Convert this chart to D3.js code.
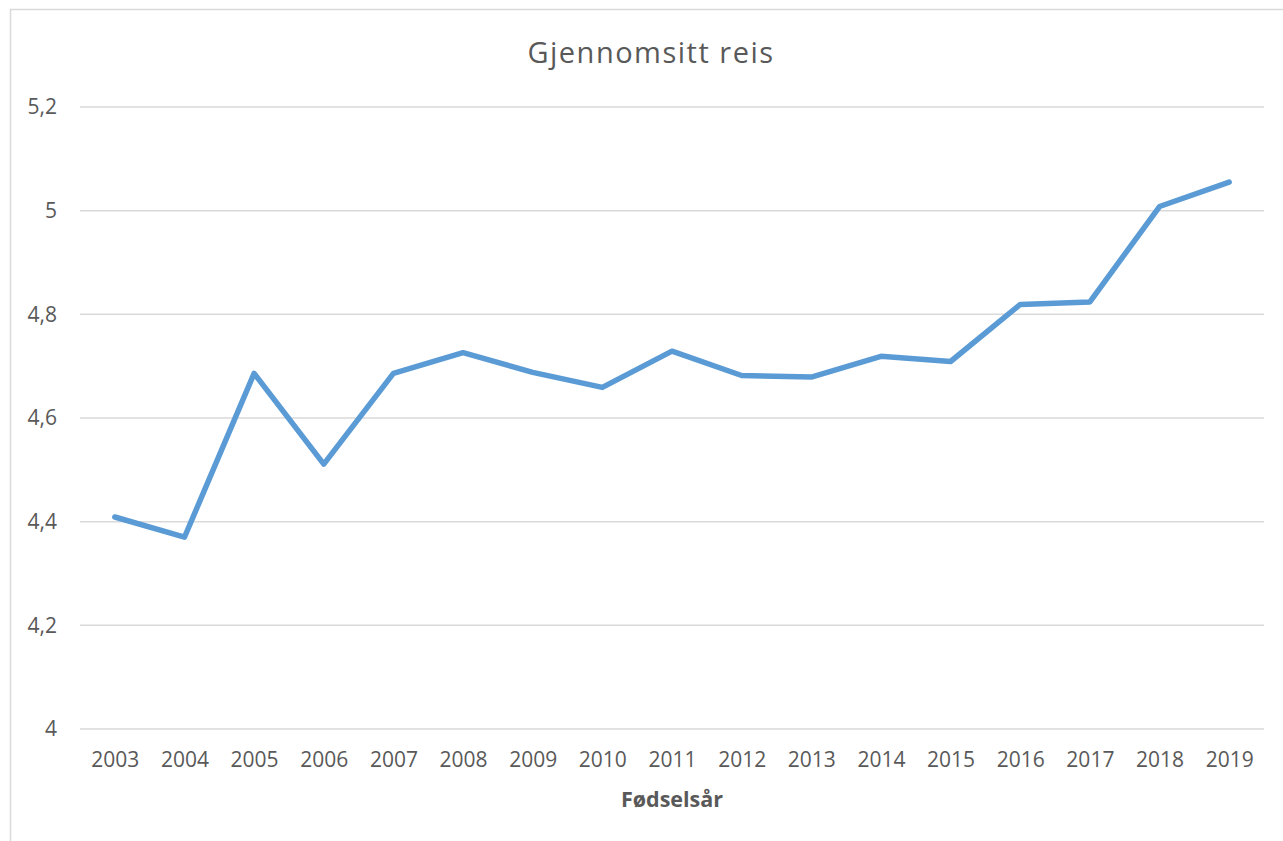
<!DOCTYPE html>
<html>
<head>
<meta charset="utf-8">
<script src="https://cdn.jsdelivr.net/npm/d3@7"></script>
<style>
  body { margin: 0; background: #fff; }
  text { font-family: "Open Sans", sans-serif; fill: #595959; }
</style>
</head>
<body>
<script>
// data
const years = ["2003", "2004", "2005", "2006", "2007", "2008", "2009", "2010", "2011",
  "2012", "2013", "2014", "2015", "2016", "2017", "2018", "2019"]
const values = [4.409, 4.370, 4.686, 4.511, 4.686, 4.726, 4.688, 4.659, 4.729,
  4.682, 4.679, 4.719, 4.709, 4.819, 4.824, 5.008, 5.055]
const yTicks = [4, 4.2, 4.4, 4.6, 4.8, 5, 5.2]

const svg = d3.select("body").append("svg").attr("width", 1283).attr("height", 841)

// chart border (right and bottom fall outside the picture)
svg.append("rect").attr("x", 10.5).attr("y", 9.5).attr("width", 1300).attr("height", 900)
  .attr("fill", "none").attr("stroke", "#d9d9d9").attr("stroke-width", 1.5)

const x = d3.scalePoint().domain(years).range([80, 1264]).padding(0.5)
const y = d3.scaleLinear().domain([4, 5.2]).range([729, 107])

// gridlines
svg.append("g").selectAll("line").data(yTicks).enter().append("line")
  .attr("x1", 80).attr("x2", 1264)
  .attr("y1", d => y(d)).attr("y2", d => y(d))
  .attr("stroke", "#d9d9d9").attr("stroke-width", 1.5)

// y axis labels
const yAxis = d3.axisLeft(y).tickValues(yTicks).tickSize(0).tickPadding(0)
  .tickFormat(d => String(d).replace(".", ","))
const gy = svg.append("g").attr("transform", "translate(57,0)").call(yAxis)
gy.select(".domain").remove()
gy.selectAll("text").style("font-size", "21px").style("font-family", "Open Sans").attr("fill", "#595959")

// x axis labels
const xAxis = d3.axisBottom(x).tickSize(0).tickPadding(0)
const gx = svg.append("g").attr("transform", "translate(0,752)").call(xAxis)
gx.select(".domain").remove()
gx.selectAll("text").style("font-size", "21px").style("font-family", "Open Sans").attr("fill", "#595959")

// line
const line = d3.line().x((d, i) => x(years[i])).y(d => y(d))
svg.append("path").datum(values).attr("d", line)
  .attr("fill", "none").attr("stroke", "#5b9bd5").attr("stroke-width", 5.5)
  .attr("stroke-linejoin", "round").attr("stroke-linecap", "round")

// titles
svg.append("text").text("Gjennomsitt reis").attr("x", 651).attr("y", 63)
  .attr("text-anchor", "middle").style("font-size", "29px").style("letter-spacing", "1.5px")
svg.append("text").text("Fødselsår").attr("x", 672).attr("y", 807)
  .attr("text-anchor", "middle").style("font-size", "21.5px").style("font-weight", "bold")
</script>
</body>
</html>
